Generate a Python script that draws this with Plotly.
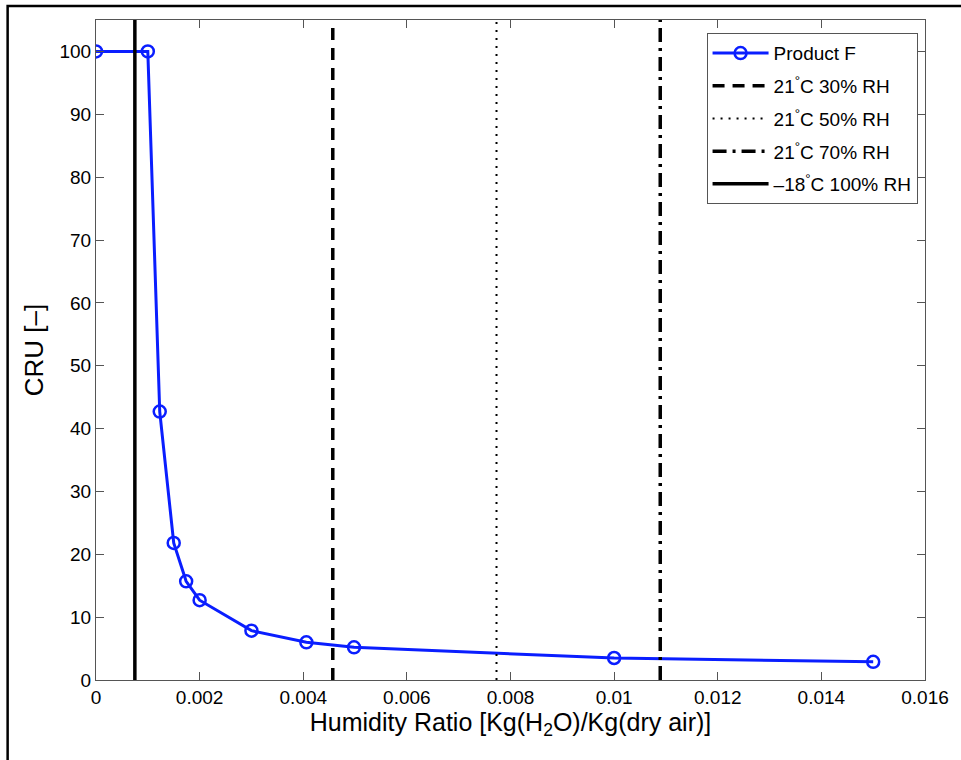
import plotly.graph_objects as go

# Data
humidity_ratio = [0.0, 0.001, 0.00123, 0.0015, 0.00174, 0.002, 0.003, 0.00406, 0.00498, 0.01, 0.015]
cru = [100, 100, 42.7, 21.8, 15.7, 12.7, 7.85, 6.0, 5.2, 3.5, 2.9]

ref_names = ["21<sup>°</sup>C 30% RH", "21<sup>°</sup>C 50% RH", "21<sup>°</sup>C 70% RH", "\u201318<sup>°</sup>C 100% RH"]
ref_values = [0.00457, 0.00773, 0.01089, 0.00075]
ref_dashes = ["12px,8px", "2px,6px", "14px,6px,3px,6px", "solid"]
ref_widths = [3.5, 2, 3.5, 3.5]

x_tick_vals = [0, 0.002, 0.004, 0.006, 0.008, 0.01, 0.012, 0.014, 0.016]
x_tick_text = ["0", "0.002", "0.004", "0.006", "0.008", "0.01", "0.012", "0.014", "0.016"]
y_tick_vals = [0, 10, 20, 30, 40, 50, 60, 70, 80, 90, 100]

y_range = [0, 105]
x_range = [0, 0.016]

fig = go.Figure()
fig.add_trace(go.Scatter(
    x=humidity_ratio, y=cru, mode="lines+markers", name="Product F", legendgroup="a",
    line=dict(color="#0a1eff", width=3),
    marker=dict(symbol="circle-open", size=12, color="#0a1eff", line=dict(width=2.5, color="#0a1eff")),
))
for i, (name, v, d, w) in enumerate(zip(ref_names, ref_values, ref_dashes, ref_widths)):
    fig.add_trace(go.Scatter(
        x=[v, v], y=y_range, mode="lines", name=name, legendgroup="g%d" % i,
        line=dict(color="black", width=w, dash=d),
    ))

font_family = "Liberation Sans, Arial, Helvetica, sans-serif"
fig.update_layout(
    width=961, height=760,
    margin=dict(l=96, r=30, t=20, b=80),
    paper_bgcolor="white", plot_bgcolor="white",
    font=dict(family=font_family, color="black", size=18),
    showlegend=True,
    legend=dict(
        x=0.7365, y=0.980, xanchor="left", yanchor="top",
        bgcolor="white", bordercolor="#555", borderwidth=1,
        font=dict(size=19, family=font_family),
        tracegroupgap=5, itemwidth=56,
    ),
    xaxis=dict(
        range=x_range, tickmode="array", tickvals=x_tick_vals, ticktext=x_tick_text,
        ticks="inside", ticklen=8, tickcolor="#555", showline=True, linecolor="#555", linewidth=1,
        mirror="allticks", showgrid=False, zeroline=False,
        tickfont=dict(size=19),
        title=dict(text="Humidity Ratio [Kg(H<sub>2</sub>O)/Kg(dry air)]", font=dict(size=25), standoff=4),
    ),
    yaxis=dict(
        range=y_range, tickmode="array", tickvals=y_tick_vals,
        ticks="inside", ticklen=8, tickcolor="#555", showline=True, linecolor="#555", linewidth=1,
        mirror="allticks", showgrid=False, zeroline=False,
        tickfont=dict(size=19),
        title=dict(text="CRU [\u2013]", font=dict(size=26), standoff=8),
    ),
    shapes=[dict(
        type="rect", xref="paper", yref="paper",
        x0=-0.1066, x1=1.1, y0=-0.2, y1=1.0212,
        line=dict(color="black", width=2.5), fillcolor="rgba(0,0,0,0)", layer="below",
    )],
)

fig.write_html("out.html")
